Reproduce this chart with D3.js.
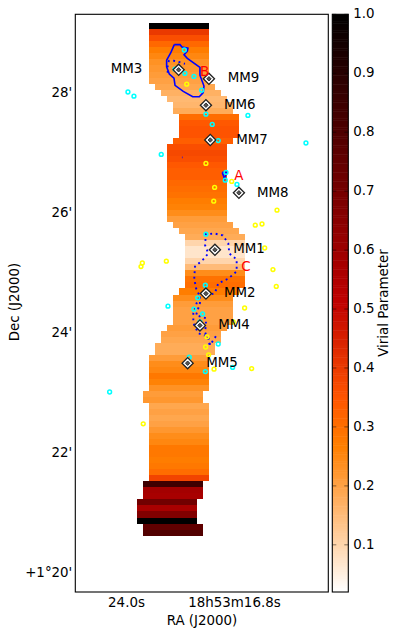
<!DOCTYPE html>
<html>
<head>
<meta charset="utf-8">
<script src="https://cdn.jsdelivr.net/npm/d3@7"></script>
<style>
  html, body { margin: 0; padding: 0; background: #fff; }
  svg { display: block; }
  text { font-family: "DejaVu Sans", sans-serif; font-size: 13.4px; fill: #000; }
</style>
</head>
<body>
<svg id="chart" width="399" height="636"></svg>
<script>
// left edge (RA seconds) of each strip row, top row first
var rowRa = [
  22.45, 22.45, 22.45, 22.45, 22.45, 22.45, 22.45, 22.45, 22.45, 22.45,
  22.05, 21.65, 21.25, 20.85, 20.85, 20.45, 20.45, 20.45, 20.45, 20.85,
  21.25, 21.25, 21.25, 21.25, 21.25, 21.25, 21.25, 21.25, 21.25, 21.25,
  21.25, 21.25, 21.25, 20.85, 20.45, 20.05, 20.05, 20.05, 20.05, 20.05,
  20.05, 20.05, 20.05, 20.05, 20.45, 20.85, 20.85, 20.85, 20.85, 20.85,
  21.25, 21.65, 21.65, 22.05, 22.05, 22.45, 22.45, 22.45, 22.45, 22.45,
  22.45, 22.85, 22.85, 22.45, 22.45, 22.45, 22.45, 22.45, 22.45, 22.45,
  22.45, 22.45, 22.45, 22.45, 22.45, 22.45, 22.85, 22.85, 22.85, 23.25,
  23.25, 23.25, 23.25, 22.85, 22.85
];
var rowSpan = 4.0;

var rowVirial = [
  1.00, 0.40, 0.36, 0.31, 0.27, 0.25, 0.23, 0.22, 0.21, 0.20,
  0.19, 0.17, 0.155, 0.16, 0.18, 0.30, 0.34, 0.35, 0.35, 0.33,
  0.36, 0.37, 0.36, 0.34, 0.33, 0.33, 0.31, 0.30, 0.29, 0.27,
  0.26, 0.24, 0.21, 0.20, 0.19, 0.18, 0.10, 0.07, 0.07, 0.10,
  0.15, 0.24, 0.29, 0.30, 0.27, 0.24, 0.21, 0.20, 0.20, 0.20,
  0.21, 0.20, 0.19, 0.18, 0.18, 0.21, 0.24, 0.25, 0.28, 0.26,
  0.23, 0.21, 0.22, 0.19, 0.20, 0.19, 0.20, 0.22, 0.24, 0.25,
  0.28, 0.28, 0.27, 0.28, 0.30, 0.38, 0.84, 0.58, 0.57, 0.71,
  0.57, 0.67, 1.00, 0.755, 0.79
];

// clumps: [RA s, Dec arcmin past 1deg]
var cyanPoints = [
  [20.11, 28.70], [20.73, 28.38], [20.07, 28.31], [19.47, 28.26], [18.95, 28.03],
  [23.87, 28.00], [23.47, 27.93], [18.67, 27.63], [15.87, 27.61], [18.25, 27.46],
  [17.85, 27.19], [21.65, 26.96], [17.33, 26.66], [17.38, 26.53], [16.60, 26.46],
  [12.00, 27.15], [18.67, 25.63], [18.07, 25.37], [18.71, 24.78], [19.22, 24.57],
  [21.20, 24.43], [19.47, 24.38], [18.89, 24.30], [19.07, 24.17], [17.85, 23.80],
  [19.78, 23.58], [18.71, 23.34], [16.89, 23.41], [25.09, 23.00]
];
var yellowPoints = [
  [19.95, 28.13], [18.67, 26.81], [16.95, 26.51], [18.09, 26.41], [18.15, 26.18],
  [13.93, 26.03], [15.38, 25.78], [14.93, 25.80], [14.75, 25.40], [22.91, 25.15],
  [23.00, 25.09], [21.31, 25.18], [14.20, 25.04], [13.98, 24.76], [16.09, 24.40],
  [16.85, 24.17], [18.60, 23.92], [18.69, 23.75], [18.49, 23.62], [18.13, 23.38],
  [15.62, 23.39], [22.85, 22.47]
];

var coreNames = ["MM3", "MM9", "MM6", "MM7", "MM8", "MM1", "MM2", "MM4", "MM5"];
var corePoints = [
  [20.49, 28.37], [18.47, 28.22], [18.67, 27.78], [18.38, 27.20], [16.47, 26.32],
  [18.07, 25.37], [18.67, 24.64], [19.07, 24.11], [19.89, 23.48]
];
var coreLabelAt = [
  [25.02, 28.31], [17.22, 28.17], [17.47, 27.72], [16.65, 27.14], [15.27, 26.25],
  [16.85, 25.32], [17.47, 24.58], [17.85, 24.05], [18.65, 23.42]
];

var regionNames = ["A", "B", "C"];
var regionLabelAt = [[16.78, 26.53], [19.07, 28.26], [16.31, 25.02]];

// contours
var solidContours = [
  [[20.78, 28.79], [20.40, 28.79], [20.27, 28.75], [19.87, 28.73], [19.91, 28.68],
   [20.13, 28.62], [19.91, 28.56], [19.07, 28.41], [19.07, 28.28], [18.80, 28.10],
   [18.85, 27.99], [19.11, 27.92], [19.55, 27.92], [20.18, 28.01], [20.73, 28.11],
   [20.80, 28.23], [21.11, 28.30], [21.29, 28.42], [21.29, 28.53], [21.02, 28.65],
   [20.78, 28.79]],
  [[17.58, 26.66], [17.29, 26.66], [17.42, 26.55], [17.58, 26.66]],
  [[20.27, 26.91], [20.23, 26.91]]
];
var dottedContours = [
  [[21.22, 28.32], [21.22, 28.48], [21.13, 28.52], [20.80, 28.52], [20.47, 28.50], [20.07, 28.47]],
  [[18.29, 24.63], [18.07, 24.65], [17.85, 24.81], [17.18, 24.89], [16.62, 25.01],
   [16.62, 25.21], [17.11, 25.31], [17.18, 25.48], [17.55, 25.61], [18.07, 25.64],
   [18.67, 25.63], [18.73, 25.45], [18.51, 25.31], [18.85, 25.21], [19.40, 25.09],
   [19.45, 24.89], [19.33, 24.73], [19.07, 24.59], [19.29, 24.48], [19.51, 24.31],
   [19.51, 24.15], [19.18, 23.98], [18.51, 23.92], [18.40, 23.78], [17.95, 23.95]],
  [[19.07, 24.59], [19.07, 24.48], [19.33, 24.28], [18.67, 24.23], [18.67, 24.12],
   [18.73, 24.00], [18.40, 23.78]]
];

var xTicks = [24.0, 16.8];
var xTickLabels = ["24.0s", "18h53m16.8s"];
var yTicks = [28, 26, 24, 22, 20];
var yTickLabels = ["28'", "26'", "24'", "22'", "+1\u00b020'"];
var cbarTicks = [0.1, 0.2, 0.3, 0.4, 0.5, 0.6, 0.7, 0.8, 0.9, 1.0];

var plot = {left: 75.3, right: 328.3, top: 14.3, bottom: 592};
var cbar = {left: 332.3, right: 348.3};

var x = d3.scaleLinear().domain([27.38, 10.51]).range([plot.left, plot.right]);
var y = d3.scaleLinear().domain([19.667, 29.295]).range([plot.bottom, plot.top]);

var rows = d3.scaleBand()
  .domain(d3.range(rowRa.length))
  .range([y(29.145), y(20.607)]);

// gist_heat, reversed
var vmin = 0.02, vmax = 1.0;
var heat = function(t) {
  var c = 1 - t;
  var cl = function(v) { return Math.round(255 * Math.max(0, Math.min(1, v))); };
  return d3.rgb(cl(1.5 * c), cl(2 * c - 1), cl(4 * c - 3)) + "";
};
var color = d3.scaleSequential(heat).domain([vmin, vmax]).clamp(true);
var cbarY = d3.scaleLinear().domain([vmin, vmax]).range([plot.bottom, plot.top]);

var svg = d3.select("#chart");

svg.append("g")
  .selectAll("rect")
  .data(rowRa)
  .enter()
  .append("rect")
  .attr("x", function(d) { return x(d); })
  .attr("width", function(d) { return x(d - rowSpan) - x(d); })
  .attr("y", function(d, i) { return rows(i); })
  .attr("height", rows.bandwidth())
  .attr("shape-rendering", "crispEdges")
  .attr("fill", function(d, i) { return color(rowVirial[i]); });

var line = d3.line()
  .x(function(d) { return x(d[0]); })
  .y(function(d) { return y(d[1]); });

svg.append("g")
  .selectAll("path")
  .data(solidContours)
  .enter()
  .append("path")
  .attr("d", line)
  .attr("fill", "none")
  .attr("stroke", "#0000ff")
  .attr("stroke-width", 1.6);

svg.append("g")
  .selectAll("path")
  .data(dottedContours)
  .enter()
  .append("path")
  .attr("d", line)
  .attr("fill", "none")
  .attr("stroke", "#0000ff")
  .attr("stroke-width", 1.9)
  .attr("stroke-dasharray", "1.9 3.6");

var drawPoints = function(points, stroke) {
  svg.append("g")
    .selectAll("circle")
    .data(points)
    .enter()
    .append("circle")
    .attr("cx", function(d) { return x(d[0]); })
    .attr("cy", function(d) { return y(d[1]); })
    .attr("r", 1.9)
    .attr("fill", "none")
    .attr("stroke", stroke)
    .attr("stroke-width", 1.5);
};
drawPoints(yellowPoints, "#ffff00");
drawPoints(cyanPoints, "#00ffff");

var cores = svg.append("g")
  .selectAll("g")
  .data(corePoints)
  .enter()
  .append("g")
  .attr("transform", function(d) { return "translate(" + x(d[0]) + "," + y(d[1]) + ") rotate(45)"; });

cores.append("path")
  .attr("d", d3.symbol(d3.symbolSquare, 62))
  .attr("fill", "#fff")
  .attr("stroke", "#222")
  .attr("stroke-width", 1.3);

cores.append("path")
  .attr("d", d3.symbol(d3.symbolSquare, 10))
  .attr("fill", "#555")
  .attr("stroke", "#222")
  .attr("stroke-width", 0.8);

svg.append("g")
  .selectAll("text")
  .data(coreNames)
  .enter()
  .append("text")
  .attr("x", function(d, i) { return x(coreLabelAt[i][0]); })
  .attr("y", function(d, i) { return y(coreLabelAt[i][1]); })
  .text(function(d) { return d; });

svg.append("g")
  .selectAll("text")
  .data(regionNames)
  .enter()
  .append("text")
  .attr("x", function(d, i) { return x(regionLabelAt[i][0]); })
  .attr("y", function(d, i) { return y(regionLabelAt[i][1]); })
  .style("fill", "#ff0000")
  .text(function(d) { return d; });

// frame
svg.append("rect")
  .attr("x", plot.left)
  .attr("y", plot.top)
  .attr("width", plot.right - plot.left)
  .attr("height", plot.bottom - plot.top)
  .attr("fill", "none")
  .attr("stroke", "#000")
  .attr("stroke-width", 1.1);

var xAxis = svg.append("g")
  .attr("transform", "translate(0," + plot.bottom + ")")
  .call(d3.axisBottom(x)
    .tickValues(xTicks)
    .tickSize(0)
    .tickPadding(5)
    .tickFormat(function(d, i) { return xTickLabels[i]; }));
xAxis.select(".domain").remove();
xAxis.attr("font-size", null).attr("font-family", null);

var yAxis = svg.append("g")
  .attr("transform", "translate(" + plot.left + ",0)")
  .call(d3.axisLeft(y)
    .tickValues(yTicks)
    .tickSize(0)
    .tickPadding(3)
    .tickFormat(function(d, i) { return yTickLabels[i]; }));
yAxis.select(".domain").remove();
yAxis.attr("font-size", null).attr("font-family", null);

svg.append("text")
  .attr("x", 202)
  .attr("y", 625)
  .style("text-anchor", "middle")
  .text("RA (J2000)");

svg.append("text")
  .attr("transform", "translate(19,302) rotate(-90)")
  .style("text-anchor", "middle")
  .text("Dec (J2000)");

// colorbar
var levels = d3.range(vmin, vmax, (vmax - vmin) / 256);
svg.append("g")
  .selectAll("rect")
  .data(levels)
  .enter()
  .append("rect")
  .attr("x", cbar.left)
  .attr("width", cbar.right - cbar.left)
  .attr("y", function(d) { return cbarY(d + (vmax - vmin) / 256); })
  .attr("height", function(d) { return cbarY(d) - cbarY(d + (vmax - vmin) / 256) + 0.5; })
  .attr("fill", function(d) { return color(d); });

var cbarAxis = svg.append("g")
  .attr("transform", "translate(" + cbar.right + ",-1)")
  .call(d3.axisRight(cbarY)
    .tickValues(cbarTicks)
    .tickSize(0)
    .tickPadding(5)
    .tickFormat(d3.format(".1f")));
cbarAxis.select(".domain").remove();
cbarAxis.attr("font-size", null).attr("font-family", null);

var cbarMarks = svg.append("g")
  .selectAll("g")
  .data(cbarTicks)
  .enter()
  .append("g");
cbarMarks.append("line")
  .attr("x1", cbar.left).attr("x2", cbar.left + 4);
cbarMarks.append("line")
  .attr("x1", cbar.right - 4).attr("x2", cbar.right);
cbarMarks.selectAll("line")
  .attr("y1", function() { return cbarY(d3.select(this.parentNode).datum()); })
  .attr("y2", function() { return cbarY(d3.select(this.parentNode).datum()); })
  .attr("stroke", "#000")
  .attr("stroke-opacity", 0.6)
  .attr("stroke-width", 0.8);

svg.append("rect")
  .attr("x", cbar.left)
  .attr("y", plot.top)
  .attr("width", cbar.right - cbar.left)
  .attr("height", plot.bottom - plot.top)
  .attr("fill", "none")
  .attr("stroke", "#000")
  .attr("stroke-width", 1.1);

svg.append("text")
  .attr("transform", "translate(388,303) rotate(-90)")
  .style("text-anchor", "middle")
  .text("Virial Parameter");
</script>
</body>
</html>
